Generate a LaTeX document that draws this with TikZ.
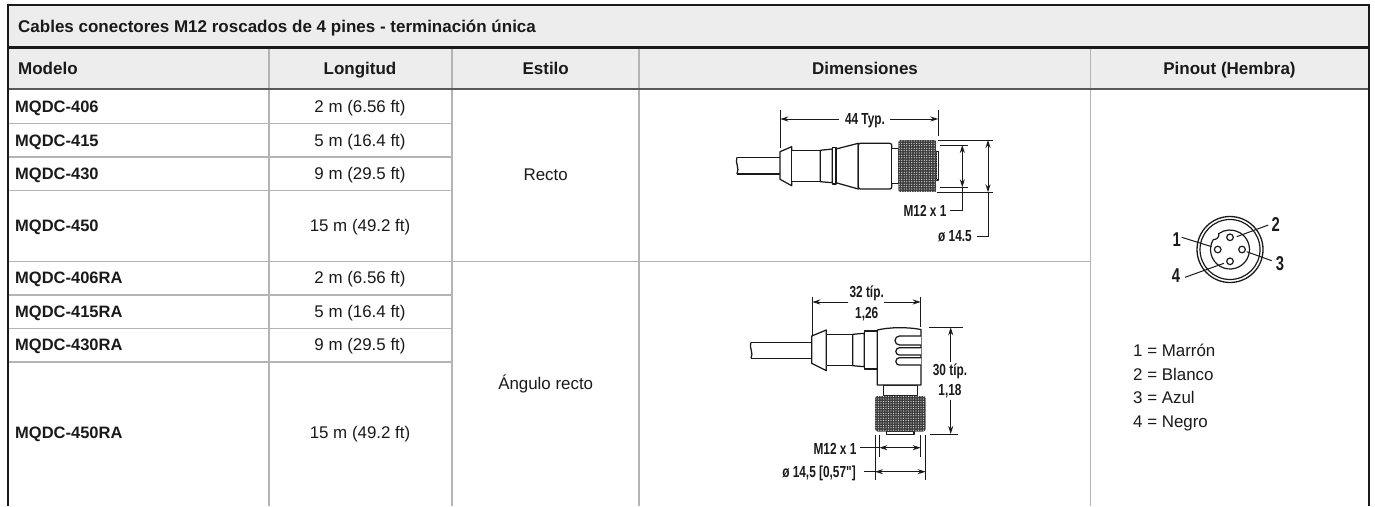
\documentclass[tikz,border=0pt]{standalone}
\usepackage{fontspec}
\setmainfont{Liberation Sans}
\newfontfamily\dimfont[FakeStretch=0.74]{Liberation Sans}
\usetikzlibrary{arrows.meta}
\definecolor{hdr}{HTML}{EDEDED}
\definecolor{rule}{HTML}{B4B4B4}
\definecolor{ink}{HTML}{1A1A1A}
\definecolor{knurl}{HTML}{3C3C3C}
\tikzset{
  x=1pt,y=-1pt,
  gridline/.style={draw=rule,line width=1.5pt},
  frameline/.style={draw=ink,line width=2.6pt},
  midframe/.style={draw=ink,line width=2.2pt},
  subframe/.style={draw=black!65,line width=2.2pt},
  cell/.style={inner sep=0pt,text height=11.5pt,text depth=0pt,text=ink,font=\fontsize{16.9}{18}\selectfont},
  boldcell/.style={cell,font=\fontsize{17}{18}\selectfont\bfseries},
  model/.style={cell,anchor=west,font=\fontsize{16.5}{18}\selectfont\bfseries},
  dimtext/.style={inner sep=0pt,text height=11.5pt,text depth=0pt,text=ink,font=\fontsize{16}{18}\selectfont\dimfont\bfseries},
  pintext/.style={inner sep=0pt,text height=13.5pt,text depth=0pt,text=ink,font=\fontsize{20}{20}\selectfont\dimfont\bfseries},
  part/.style={draw=ink,line width=1.25pt,fill=white,line join=round},
  dimline/.style={draw=ink,line width=1pt},
  dimarrow/.style={dimline,-{Stealth[length=8pt,width=5pt]}},
  dimboth/.style={dimline,{Stealth[length=8pt,width=5pt]}-{Stealth[length=8pt,width=5pt]}},
}
\begin{document}
\begin{tikzpicture}
\useasboundingbox (0,0) rectangle (1375,506);
% header backgrounds
\fill[hdr] (8,5) rectangle (1369,89);
% grid
\foreach \xx in {269,452,639,1090.3}{\draw[gridline] (\xx,48) -- (\xx,506);}
\foreach \yy in {123.5,157,190.5,261.5,295,328.5,362}{\draw[gridline] (8,\yy) -- (452,\yy);}
\draw[gridline] (452,261.5) -- (1090.3,261.5);
\draw[subframe] (8,89) -- (1369,89);
\draw[midframe] (8,47.5) -- (1369,47.5);
\draw[frameline] (8,5) -- (1369,5);
\draw[frameline] (8,3.7) -- (8,506);
\draw[frameline] (1369,3.7) -- (1369,506);
% text
\node[boldcell,anchor=west] (title) at (18,27) {Cables conectores M12 roscados de 4 pines - terminación única};
\node[boldcell,anchor=west] (hmodel) at (18,69) {Modelo};
\node[boldcell] (hlen) at (360,69) {Longitud};
\node[boldcell] (hstyle) at (545.7,69) {Estilo};
\node[boldcell] (hdim) at (865,69) {Dimensiones};
\node[boldcell] (hpin) at (1229.5,69) {Pinout (Hembra)};
\node[model] (m1) at (15,107) {MQDC-406};
\node[model] (m2) at (15,140.5) {MQDC-415};
\node[model] (m3) at (15,174) {MQDC-430};
\node[model] (m4) at (15,225.5) {MQDC-450};
\node[model] (m5) at (15,278) {MQDC-406RA};
\node[model] (m6) at (15,311.5) {MQDC-415RA};
\node[model] (m7) at (15,345) {MQDC-430RA};
\node[model] (m8) at (15,433) {MQDC-450RA};
\node[cell] (l1) at (360,107) {2 m (6.56 ft)};
\node[cell] (l2) at (360,140.5) {5 m (16.4 ft)};
\node[cell] (l3) at (360,174) {9 m (29.5 ft)};
\node[cell] (l4) at (360,225.5) {15 m (49.2 ft)};
\node[cell] (l5) at (360,278) {2 m (6.56 ft)};
\node[cell] (l6) at (360,311.5) {5 m (16.4 ft)};
\node[cell] (l7) at (360,345) {9 m (29.5 ft)};
\node[cell] (l8) at (360,433) {15 m (49.2 ft)};
\node[cell] (s1) at (545.7,175) {Recto};
\node[cell] (s2) at (545.7,384) {Ángulo recto};
\node[cell,anchor=west] (c1) at (1133,351) {1 = Marrón};
\node[cell,anchor=west] (c2) at (1133,374.7) {2 = Blanco};
\node[cell,anchor=west] (c3) at (1133,398) {3 = Azul};
\node[cell,anchor=west] (c4) at (1133,421.5) {4 = Negro};
% straight connector
\draw[part,fill=none] (780,157.3) -- (737,157.3);
\draw[part,fill=none] (780,174) -- (737,174);
\draw[part,fill=none] (737,157.3) .. controls (734.5,162) and (740,168) .. (737,174);
\draw[part] (780,151.7) -- (791.7,146.7) -- (791.7,185.7) -- (780,179.3) -- cycle;
\draw[part] (791.7,150.3) -- (820.3,150.3) -- (820.3,181.7) -- (791.7,181.7) -- cycle;
\draw[part] (820.3,150.3) -- (832.3,149) -- (832.3,182.7) -- (820.3,181.7) -- cycle;
\draw[part] (836,149) -- (858.3,143.3) -- (858.3,189) -- (836,182.7) -- cycle;
\draw[part] (832.3,147.7) rectangle (836,184);
\draw[part,rounded corners=2pt] (858.3,143.3) -- (891.7,143.3) -- (891.7,189) -- (858.3,189) -- cycle;
\draw[part] (891.7,148.3) rectangle (898.3,183.3);
\draw[part] (936.7,151.7) rectangle (938.7,180);
\begin{scope}
\clip[rounded corners=2.5pt] (898.3,140) rectangle (936.7,192.3);
\fill[knurl] (898.3,140) rectangle (936.7,192.3);
\foreach \i in {0,...,15}{\foreach \j in {0,...,21}{\fill[white!85!black] (899.2+\i*2.5,141+\j*2.4) circle (0.62pt);}}
\end{scope}
\draw[dimline] (780.3,110) -- (780.3,148);
\draw[dimline] (938.3,110) -- (938.3,136);
\coordinate (a1) at (780.3,119); \coordinate (a2) at (839,119);
\coordinate (a3) at (938.3,119); \coordinate (a4) at (890,119);
\draw[dimarrow] (a2) -- (a1);
\draw[dimarrow] (a4) -- (a3);
\node[dimtext] (d44) at (865,119) {44 Typ.};
\draw[dimline] (938.3,140) -- (993,140);
\draw[dimline] (936.7,192.3) -- (993,192.3);
\draw[dimline] (940,145) -- (968.3,145);
\draw[dimline] (940,187.3) -- (968.3,187.3);
\coordinate (b1) at (962.3,145); \coordinate (b2) at (962.3,187.3);
\draw[dimboth] (b1) -- (b2);
\draw[dimline] (b2) -- (962.3,210) -- (950,210);
\coordinate (e1) at (988,140); \coordinate (e2) at (988,192.3);
\draw[dimboth] (e1) -- (e2);
\draw[dimline] (e2) -- (988,236.7) -- (976.7,236.7);
\node[dimtext] (dm12) at (925,211) {M12 x 1};
\node[dimtext] (d145) at (955,236) {ø 14.5};
% right-angle connector
\draw[part,fill=none] (811.7,342.3) -- (751,342.3);
\draw[part,fill=none] (811.7,358.3) -- (751,358.3);
\draw[part,fill=none] (751,342.3) .. controls (748.5,347) and (754,353) .. (751,358.3);
\draw[part] (811.7,336) -- (826.3,330) -- (826.3,370.7) -- (811.7,363.3) -- cycle;
\draw[part] (826.3,334.3) -- (852.7,334.3) -- (852.7,365.7) -- (826.3,365.7) -- cycle;
\draw[part] (852.7,334.3) -- (864.3,333.3) -- (864.3,366.7) -- (852.7,365.7) -- cycle;
\draw[part] (864.3,331) rectangle (877.3,369);
\draw[part] (883.3,385) rectangle (917.3,395.7);
\draw[part] (877.3,330) .. controls (890,327) and (908,327) .. (921,329.5) -- (921,385) -- (877.3,385) -- cycle;
\draw[part] (921,336) -- (899.5,336) arc[start angle=90,end angle=270,radius=4.5pt] -- (921,345);
\draw[part] (921,347.7) -- (899.5,347.7) arc[start angle=90,end angle=270,radius=3.7pt] -- (921,355.1);
\draw[part] (921,357.7) -- (899.5,357.7) arc[start angle=90,end angle=270,radius=3.7pt] -- (921,365.1);
\draw[part] (886.7,431) rectangle (914,434.3);
\begin{scope}
\clip[rounded corners=3pt] (875,395.7) rectangle (925.7,431.7);
\fill[knurl] (875,395.7) rectangle (925.7,431.7);
\foreach \i in {0,...,20}{\foreach \j in {0,...,14}{\fill[white!85!black] (876+\i*2.5,396.6+\j*2.4) circle (0.62pt);}}
\end{scope}
\draw[dimline] (812.3,296.7) -- (812.3,335);
\draw[dimline] (920.7,296.7) -- (920.7,326.7);
\coordinate (f1) at (812.3,302); \coordinate (f2) at (848.3,302);
\coordinate (f3) at (920.7,302); \coordinate (f4) at (884,302);
\draw[dimarrow] (f2) -- (f1);
\draw[dimarrow] (f4) -- (f3);
\node[dimtext] (d32) at (866.7,291.5) {32 típ.};
\node[dimtext] (d126) at (866.7,312.7) {1,26};
\draw[dimline] (929.3,327.3) -- (963.3,327.3);
\draw[dimline] (930,434) -- (957.7,434);
\coordinate (g1) at (950.7,327.3); \coordinate (g2) at (950.7,361.7);
\coordinate (g3) at (950.7,434); \coordinate (g4) at (950.7,400);
\draw[dimarrow] (g2) -- (g1);
\draw[dimarrow] (g4) -- (g3);
\node[dimtext] (d30) at (950,369.3) {30 típ.};
\node[dimtext] (d118) at (950,390) {1,18};
\draw[dimline] (875,435) -- (875,480);
\draw[dimline] (925.7,435) -- (925.7,480);
\draw[dimline] (879.3,435) -- (879.3,456.7);
\draw[dimline] (920.7,435) -- (920.7,456.7);
\coordinate (h1) at (879.3,447.7); \coordinate (h2) at (920.7,447.7);
\coordinate (h3) at (875,471.7); \coordinate (h4) at (925.7,471.7);
\draw[dimboth] (h1) -- (h2);
\draw[dimboth] (h3) -- (h4);
\draw[dimline] (860,447.7) -- (h1);
\draw[dimline] (864.3,471.7) -- (h3);
\node[dimtext] (dm12b) at (835,449) {M12 x 1};
\node[dimtext] (d145b) at (819,471.7) {ø 14,5 [0,57"]};
% pinout
\coordinate (pc) at (1230,249.5);
\draw[draw=ink,line width=1.3pt] (pc) circle (33);
\draw[draw=ink,line width=1.2pt] (pc) circle (30);
\draw[draw=ink,line width=1.2pt] (1213.1,239.75) arc[start angle=150,end angle=485,radius=19.5pt] .. controls (1219.5,237) and (1217,239.5) .. (1213.1,239.75);
\foreach \nm/\px/\py in {pa/1230/237.3,pb/1217.7/249.5,pc2/1242/249.5,pd/1230/261.3}{\draw[draw=ink,line width=1.2pt] (\px,\py) circle (3.3);}
\draw[dimline] (1236.7,236.7) -- (1268.3,225);
\draw[dimline] (1246.7,251.7) -- (1271.7,260.7);
\draw[dimline] (1181.7,237.3) -- (1211.7,246.7);
\draw[dimline] (1185,277.3) -- (1224,263.3);
\node[pintext] (n1) at (1176.7,240) {1};
\node[pintext] (n2) at (1275.7,225) {2};
\node[pintext] (n3) at (1280,263.3) {3};
\node[pintext] (n4) at (1176,275.7) {4};
\end{tikzpicture}
\end{document}
